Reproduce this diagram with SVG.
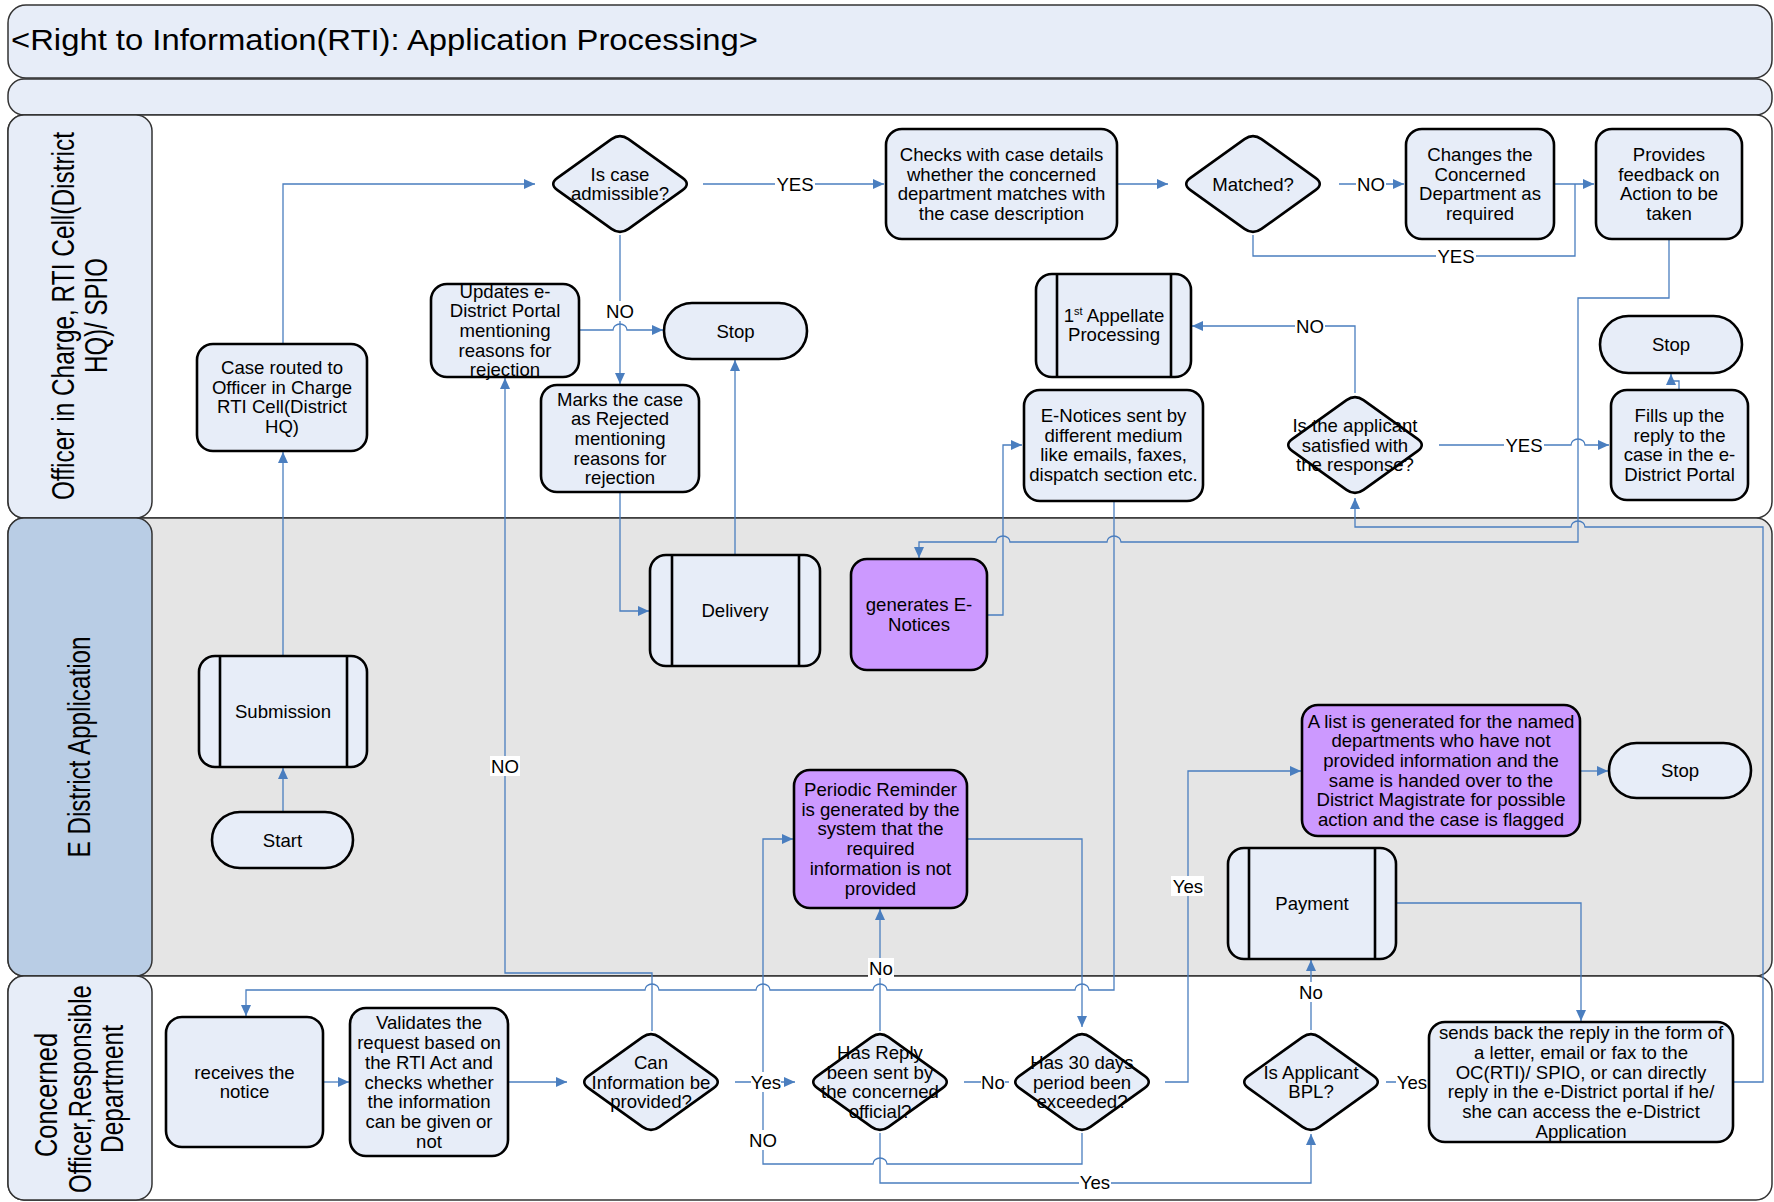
<svg xmlns="http://www.w3.org/2000/svg" xmlns:xlink="http://www.w3.org/1999/xlink" width="1774" height="1202" viewBox="0 0 1774 1202">
<style>
  .bar{fill:#E7EDF8;stroke:#333;stroke-width:1.5}
  .lane{stroke:#333;stroke-width:1.5}
  .nd{fill:#E7EDF8;stroke:#000;stroke-width:2.6}
  .pu{fill:#CC99FF;stroke:#000;stroke-width:2.6}
  .sub{stroke:#000;stroke-width:2.6}
  .ln{fill:none;stroke:#4A7EBF;stroke-width:1.3}
  .arr{marker-end:url(#ah)}
  .tx{font-family:"Liberation Sans",Arial,sans-serif;font-size:18.6px;text-anchor:middle;fill:#000}
  .hd{font-family:"Liberation Sans",Arial,sans-serif;font-size:31px;text-anchor:middle;fill:#000}
  .lb rect{fill:#fff}
</style>
<defs>
  <marker id="ah" viewBox="0 0 11 10" refX="11" refY="5" markerWidth="11" markerHeight="10" markerUnits="userSpaceOnUse" orient="auto">
    <path d="M0,0 L11,5 L0,10 z" fill="#4A7EBF"/>
  </marker>
  <!-- rounded decision diamond, centred on the origin -->
  <path id="dia" d="M8.5,-44.9 L62.5,-6.1 Q71,0 62.5,6.1 L8.5,44.9 Q0,51 -8.5,44.9 L-62.5,6.1 Q-71,0 -62.5,-6.1 L-8.5,-44.9 Q0,-51 8.5,-44.9 Z"/>
</defs>

<!-- title bars and swimlanes -->
<g id="lanes">
  <rect class="bar" x="8" y="5" width="1764" height="73" rx="18"/>
  <text x="11" y="50" font-family="Liberation Sans, Arial, sans-serif" font-size="29" textLength="747" lengthAdjust="spacingAndGlyphs">&lt;Right to Information(RTI): Application Processing&gt;</text>
  <rect class="bar" x="8" y="79" width="1764" height="36" rx="16"/>

  <rect class="lane" x="8" y="115" width="1764" height="403" rx="16" fill="#FFFFFF"/>
  <rect class="lane" x="8" y="115" width="144" height="403" rx="16" fill="#E7EDF8"/>
  <text class="hd" transform="translate(73.5,316) rotate(-90)" textLength="368" lengthAdjust="spacingAndGlyphs">Officer in Charge, RTI Cell(District</text>
  <text class="hd" transform="translate(106.5,315.5) rotate(-90)" textLength="115" lengthAdjust="spacingAndGlyphs">HQ)/ SPIO</text>

  <rect class="lane" x="8" y="518" width="1764" height="458" rx="16" fill="#E5E5E5"/>
  <rect class="lane" x="8" y="518" width="144" height="458" rx="16" fill="#B9CDE5"/>
  <text class="hd" transform="translate(90,747) rotate(-90)" textLength="221" lengthAdjust="spacingAndGlyphs">E District Application</text>

  <rect class="lane" x="8" y="976" width="1764" height="224" rx="16" fill="#FFFFFF"/>
  <rect class="lane" x="8" y="976" width="144" height="224" rx="16" fill="#E7EDF8"/>
  <text class="hd" transform="translate(57,1095) rotate(-90)" textLength="124" lengthAdjust="spacingAndGlyphs">Concerned</text>
  <text class="hd" transform="translate(91,1089) rotate(-90)" textLength="208" lengthAdjust="spacingAndGlyphs">Officer,Responsible</text>
  <text class="hd" transform="translate(123,1089) rotate(-90)" textLength="128" lengthAdjust="spacingAndGlyphs">Department</text>
</g>

<!-- connectors -->
<g id="connectors">
  <path class="ln arr" d="M283,812 V768"/>
  <path class="ln arr" d="M283,656 V452"/>
  <path class="ln arr" d="M283,344 V184 H535"/>
  <path class="ln arr" d="M703,184 H884"/>
  <path class="ln arr" d="M1118,184 H1168"/>
  <path class="ln arr" d="M1339,184 H1404"/>
  <path class="ln arr" d="M1554,184 H1594"/>
  <path class="ln" d="M1253,235 V256 H1575 V184"/>
  <path class="ln arr" d="M1669,239 V298 H1578 V542 H1121 A7,6 0 0,0 1107,542 H1010 A7,6 0 0,0 996,542 H919 V558"/>
  <path class="ln arr" d="M987,615 H1003 V445 H1022"/>
  <path class="ln arr" d="M1114,501 V990 H1089 A7,6 0 0,0 1075,990 H887 A7,6 0 0,0 873,990 H770 A7,6 0 0,0 756,990 H659 A7,6 0 0,0 645,990 H246 V1016"/>
  <path class="ln arr" d="M620,235 V384"/>
  <path class="ln arr" d="M579,330 H613 A7,6 0 0,1 627,330 H663"/>
  <path class="ln arr" d="M620,492 V611 H649"/>
  <path class="ln arr" d="M735,555 V360"/>
  <path class="ln arr" d="M652,1031 V973 H505 V378"/>
  <path class="ln arr" d="M735,1082 H795"/>
  <path class="ln arr" d="M880,1031 V909"/>
  <path class="ln" d="M964,1082 H1009"/>
  <path class="ln arr" d="M967,839 H1082 V1027"/>
  <path class="ln arr" d="M1082,1133 V1164 H887 A7,6 0 0,0 873,1164 H763 V839 H793"/>
  <path class="ln arr" d="M880,1133 V1183 H1311 V1134"/>
  <path class="ln arr" d="M1165,1082 H1188 V771 H1301"/>
  <path class="ln arr" d="M1580,771 H1608"/>
  <path class="ln arr" d="M1311,1030 V960"/>
  <path class="ln arr" d="M1396,903 H1581 V1021"/>
  <path class="ln arr" d="M1733,1082 H1763 V527 H1585 A7,6 0 0,0 1571,527 H1355 V498"/>
  <path class="ln arr" d="M1439,445 H1571 A7,6 0 0,1 1585,445 H1609"/>
  <path class="ln arr" d="M1355,393 V326 H1192"/>
  <path class="ln arr" d="M1679,390 V381 H1671 V374"/>
  <path class="ln arr" d="M323,1082 H349"/>
  <path class="ln arr" d="M508,1082 H567"/>
  <path class="ln" d="M1386,1082 H1428"/>

  <!-- connector labels -->
  <g class="lb"><rect x="775" y="174" width="40" height="20"/><text class="tx" x="795" y="190.5">YES</text></g>
  <g class="lb"><rect x="1356" y="174" width="30" height="20"/><text class="tx" x="1371" y="190.5">NO</text></g>
  <g class="lb"><rect x="1436" y="246" width="40" height="20"/><text class="tx" x="1456" y="262.5">YES</text></g>
  <g class="lb"><rect x="605" y="301" width="30" height="20"/><text class="tx" x="620" y="317.5">NO</text></g>
  <g class="lb"><rect x="1295" y="316" width="30" height="20"/><text class="tx" x="1310" y="332.5">NO</text></g>
  <g class="lb"><rect x="1504" y="435" width="40" height="20"/><text class="tx" x="1524" y="451.5">YES</text></g>
  <g class="lb"><rect x="490" y="756" width="30" height="20"/><text class="tx" x="505" y="772.5">NO</text></g>
  <g class="lb"><rect x="751" y="1072" width="30" height="20"/><text class="tx" x="766" y="1088.5">Yes</text></g>
  <g class="lb"><rect x="868" y="958" width="26" height="20"/><text class="tx" x="881" y="974.5">No</text></g>
  <g class="lb"><rect x="981" y="1072" width="24" height="20"/><text class="tx" x="993" y="1088.5">No</text></g>
  <g class="lb"><rect x="748" y="1130" width="30" height="20"/><text class="tx" x="763" y="1146.5">NO</text></g>
  <g class="lb"><rect x="1079" y="1172" width="32" height="20"/><text class="tx" x="1095" y="1188.5">Yes</text></g>
  <g class="lb"><rect x="1171" y="876" width="33" height="20"/><text class="tx" x="1188" y="892.5">Yes</text></g>
  <g class="lb"><rect x="1298" y="982" width="26" height="20"/><text class="tx" x="1311" y="998.5">No</text></g>
  <g class="lb"><rect x="1396" y="1072" width="32" height="20"/><text class="tx" x="1412" y="1088.5">Yes</text></g>
</g>

<!-- Officer in Charge lane -->
<g id="n-case-routed">
  <rect class="nd" x="197" y="344" width="170" height="107" rx="16"/>
  <text class="tx" x="282" y="374"><tspan x="282">Case routed to</tspan><tspan x="282" dy="19.7">Officer in Charge</tspan><tspan x="282" dy="19.7">RTI Cell(District</tspan><tspan x="282" dy="19.7">HQ)</tspan></text>
</g>
<g id="n-admissible">
  <use href="#dia" xlink:href="#dia" class="nd" transform="translate(620,184)"/>
  <text class="tx" x="620" y="180.5"><tspan x="620">Is case</tspan><tspan x="620" dy="19.7">admissible?</tspan></text>
</g>
<g id="n-checks">
  <rect class="nd" x="886" y="129" width="231" height="110" rx="16"/>
  <text class="tx" x="1001.5" y="161"><tspan x="1001.5">Checks with case details</tspan><tspan x="1001.5" dy="19.7">whether the concerned</tspan><tspan x="1001.5" dy="19.7">department matches with</tspan><tspan x="1001.5" dy="19.7">the case description</tspan></text>
</g>
<g id="n-matched">
  <use href="#dia" xlink:href="#dia" class="nd" transform="translate(1253,184)"/>
  <text class="tx" x="1253" y="190.5">Matched?</text>
</g>
<g id="n-changes">
  <rect class="nd" x="1406" y="129" width="148" height="110" rx="16"/>
  <text class="tx" x="1480" y="161"><tspan x="1480">Changes the</tspan><tspan x="1480" dy="19.7">Concerned</tspan><tspan x="1480" dy="19.7">Department as</tspan><tspan x="1480" dy="19.7">required</tspan></text>
</g>
<g id="n-feedback">
  <rect class="nd" x="1596" y="129" width="146" height="110" rx="16"/>
  <text class="tx" x="1669" y="161"><tspan x="1669">Provides</tspan><tspan x="1669" dy="19.7">feedback on</tspan><tspan x="1669" dy="19.7">Action to be</tspan><tspan x="1669" dy="19.7">taken</tspan></text>
</g>
<g id="n-appellate">
  <rect class="nd" x="1036" y="274" width="155" height="103" rx="16"/>
  <line class="sub" x1="1057" y1="274" x2="1057" y2="377"/>
  <line class="sub" x1="1171" y1="274" x2="1171" y2="377"/>
  <text class="tx" x="1114" y="321.5">1<tspan font-size="11" dy="-7">st</tspan><tspan dy="7"> Appellate</tspan></text>
  <text class="tx" x="1114" y="341.2">Processing</text>
</g>
<g id="n-enotices-sent">
  <rect class="nd" x="1024" y="390" width="179" height="111" rx="16"/>
  <text class="tx" x="1113.5" y="422"><tspan x="1113.5">E-Notices sent by</tspan><tspan x="1113.5" dy="19.7">different medium</tspan><tspan x="1113.5" dy="19.7">like emails, faxes,</tspan><tspan x="1113.5" dy="19.7">dispatch section etc.</tspan></text>
</g>
<g id="n-satisfied">
  <use href="#dia" xlink:href="#dia" class="nd" transform="translate(1355,445)"/>
  <text class="tx" x="1355" y="431.8"><tspan x="1355">Is the applicant</tspan><tspan x="1355" dy="19.7">satisfied with</tspan><tspan x="1355" dy="19.7">the response?</tspan></text>
</g>
<g id="n-stop-1">
  <rect class="nd" x="1600" y="316" width="142" height="57" rx="28.5"/>
  <text class="tx" x="1671" y="351">Stop</text>
</g>
<g id="n-fills">
  <rect class="nd" x="1611" y="390" width="137" height="110" rx="16"/>
  <text class="tx" x="1679.5" y="422"><tspan x="1679.5">Fills up the</tspan><tspan x="1679.5" dy="19.7">reply to the</tspan><tspan x="1679.5" dy="19.7">case in the e-</tspan><tspan x="1679.5" dy="19.7">District Portal</tspan></text>
</g>
<g id="n-updates">
  <rect class="nd" x="431" y="284" width="148" height="93" rx="16"/>
  <text class="tx" x="505" y="297.6"><tspan x="505">Updates e-</tspan><tspan x="505" dy="19.7">District Portal</tspan><tspan x="505" dy="19.7">mentioning</tspan><tspan x="505" dy="19.7">reasons for</tspan><tspan x="505" dy="19.7">rejection</tspan></text>
</g>
<g id="n-stop-2">
  <rect class="nd" x="664" y="303" width="143" height="56" rx="28"/>
  <text class="tx" x="735.5" y="337.5">Stop</text>
</g>
<g id="n-rejected">
  <rect class="nd" x="541" y="385" width="158" height="107" rx="16"/>
  <text class="tx" x="620" y="405.6"><tspan x="620">Marks the case</tspan><tspan x="620" dy="19.7">as Rejected</tspan><tspan x="620" dy="19.7">mentioning</tspan><tspan x="620" dy="19.7">reasons for</tspan><tspan x="620" dy="19.7">rejection</tspan></text>
</g>

<!-- E District Application lane -->
<g id="n-delivery">
  <rect class="nd" x="650" y="555" width="170" height="111" rx="16"/>
  <line class="sub" x1="672" y1="555" x2="672" y2="666"/>
  <line class="sub" x1="799" y1="555" x2="799" y2="666"/>
  <text class="tx" x="735" y="617">Delivery</text>
</g>
<g id="n-generates">
  <rect class="pu" x="851" y="559" width="136" height="111" rx="16"/>
  <text class="tx" x="919" y="611"><tspan x="919">generates E-</tspan><tspan x="919" dy="19.7">Notices</tspan></text>
</g>
<g id="n-submission">
  <rect class="nd" x="199" y="656" width="168" height="111" rx="16"/>
  <line class="sub" x1="220" y1="656" x2="220" y2="767"/>
  <line class="sub" x1="347" y1="656" x2="347" y2="767"/>
  <text class="tx" x="283" y="718">Submission</text>
</g>
<g id="n-start">
  <rect class="nd" x="212" y="812" width="141" height="56" rx="28"/>
  <text class="tx" x="282.5" y="846.5">Start</text>
</g>
<g id="n-reminder">
  <rect class="pu" x="794" y="770" width="173" height="138" rx="16"/>
  <text class="tx" x="880.5" y="796"><tspan x="880.5">Periodic Reminder</tspan><tspan x="880.5" dy="19.7">is generated by the</tspan><tspan x="880.5" dy="19.7">system that the</tspan><tspan x="880.5" dy="19.7">required</tspan><tspan x="880.5" dy="19.7">information is not</tspan><tspan x="880.5" dy="19.7">provided</tspan></text>
</g>
<g id="n-list">
  <rect class="pu" x="1302" y="705" width="278" height="131" rx="16"/>
  <text class="tx" x="1441" y="727.5"><tspan x="1441">A list is generated for the named</tspan><tspan x="1441" dy="19.7">departments who have not</tspan><tspan x="1441" dy="19.7">provided information and the</tspan><tspan x="1441" dy="19.7">same is handed over to the</tspan><tspan x="1441" dy="19.7">District Magistrate for possible</tspan><tspan x="1441" dy="19.7">action and the case is flagged</tspan></text>
</g>
<g id="n-stop-3">
  <rect class="nd" x="1609" y="743" width="142" height="55" rx="27.5"/>
  <text class="tx" x="1680" y="777">Stop</text>
</g>
<g id="n-payment">
  <rect class="nd" x="1228" y="848" width="168" height="111" rx="16"/>
  <line class="sub" x1="1249" y1="848" x2="1249" y2="959"/>
  <line class="sub" x1="1375" y1="848" x2="1375" y2="959"/>
  <text class="tx" x="1312" y="910">Payment</text>
</g>

<!-- Concerned Officer lane -->
<g id="n-receives">
  <rect class="nd" x="166" y="1017" width="157" height="130" rx="16"/>
  <text class="tx" x="244.5" y="1078.7"><tspan x="244.5">receives the</tspan><tspan x="244.5" dy="19.7">notice</tspan></text>
</g>
<g id="n-validates">
  <rect class="nd" x="350" y="1008" width="158" height="148" rx="16"/>
  <text class="tx" x="429" y="1029.4"><tspan x="429">Validates the</tspan><tspan x="429" dy="19.7">request based on</tspan><tspan x="429" dy="19.7">the RTI Act and</tspan><tspan x="429" dy="19.7">checks whether</tspan><tspan x="429" dy="19.7">the information</tspan><tspan x="429" dy="19.7">can be given or</tspan><tspan x="429" dy="19.7">not</tspan></text>
</g>
<g id="n-can-provide">
  <use href="#dia" xlink:href="#dia" class="nd" transform="translate(651,1082)"/>
  <text class="tx" x="651" y="1068.8"><tspan x="651">Can</tspan><tspan x="651" dy="19.7">Information be</tspan><tspan x="651" dy="19.7">provided?</tspan></text>
</g>
<g id="n-reply-sent">
  <use href="#dia" xlink:href="#dia" class="nd" transform="translate(880,1082)"/>
  <text class="tx" x="880" y="1059"><tspan x="880">Has Reply</tspan><tspan x="880" dy="19.7">been sent by</tspan><tspan x="880" dy="19.7">the concerned</tspan><tspan x="880" dy="19.7">official?</tspan></text>
</g>
<g id="n-30-days">
  <use href="#dia" xlink:href="#dia" class="nd" transform="translate(1082,1082)"/>
  <text class="tx" x="1082" y="1068.8"><tspan x="1082">Has 30 days</tspan><tspan x="1082" dy="19.7">period been</tspan><tspan x="1082" dy="19.7">exceeded?</tspan></text>
</g>
<g id="n-bpl">
  <use href="#dia" xlink:href="#dia" class="nd" transform="translate(1311,1082)"/>
  <text class="tx" x="1311" y="1078.7"><tspan x="1311">Is Applicant</tspan><tspan x="1311" dy="19.7">BPL?</tspan></text>
</g>
<g id="n-sends-back">
  <rect class="nd" x="1429" y="1022" width="304" height="120" rx="16"/>
  <text class="tx" x="1581" y="1039.3"><tspan x="1581">sends back the reply in the form of</tspan><tspan x="1581" dy="19.7">a letter, email or fax to the</tspan><tspan x="1581" dy="19.7">OC(RTI)/ SPIO, or can directly</tspan><tspan x="1581" dy="19.7">reply in the e-District portal if he/</tspan><tspan x="1581" dy="19.7">she can access the e-District</tspan><tspan x="1581" dy="19.7">Application</tspan></text>
</g>
</svg>
